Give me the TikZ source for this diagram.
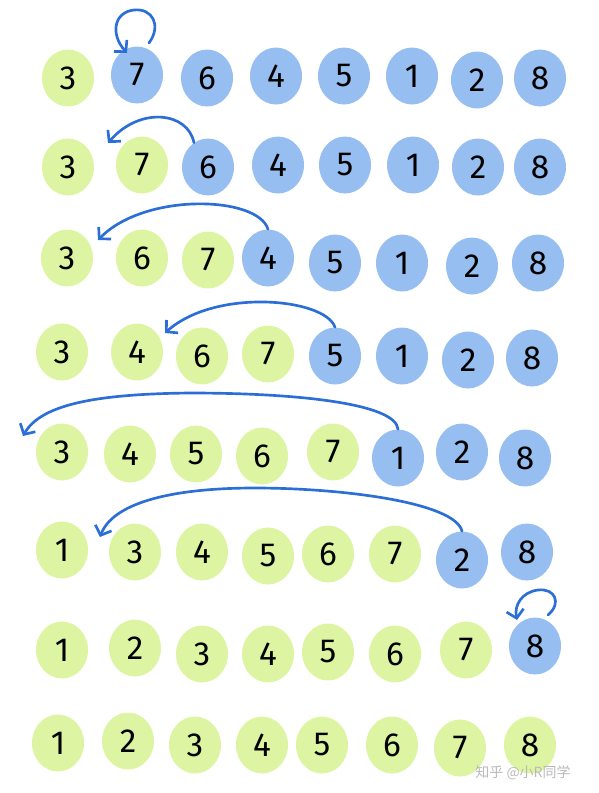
\documentclass[tikz,border=0pt]{standalone}
\usepackage{fontspec}
\setmainfont{Fira Sans}
\newfontfamily\cjk{Noto Sans CJK SC}
\usetikzlibrary{arrows.meta,shapes.geometric}
\definecolor{gfill}{HTML}{DDF5A2}
\definecolor{bfill}{HTML}{97BEF0}
\definecolor{arc}{HTML}{2B6FD6}
\tikzset{
  ball/.style={ellipse, minimum width=39pt, minimum height=42.75pt, inner sep=0pt,
    font=\fontsize{25}{25}\selectfont, text=black},
  g/.style={ball, fill=gfill},
  b/.style={ball, fill=bfill},
  arr/.style={draw=arc, line width=2pt, line cap=round,
    -{Straight Barb[length=6pt,width=13pt,line width=2pt]}},
}
\begin{document}
\begin{tikzpicture}[x=0.75pt,y=-0.75pt]
\useasboundingbox (0,0) rectangle (599,793);
% row 1
\node[g] (r1c1) at (68,78) {3};
\node[b] (r1c2) at (137,75) {7};
\node[b] (r1c3) at (207,78) {6};
\node[b] (r1c4) at (276,76) {4};
\node[b] (r1c5) at (344,76) {5};
\node[b] (r1c6) at (412,76) {1};
\node[b] (r1c7) at (477,80) {2};
\node[b] (r1c8) at (540,78) {8};
% row 2
\node[g] (r2c1) at (68,167) {3};
\node[g] (r2c2) at (142,165) {7};
\node[b] (r2c3) at (208,167) {6};
\node[b] (r2c4) at (278,165) {4};
\node[b] (r2c5) at (345,165) {5};
\node[b] (r2c6) at (413,165) {1};
\node[b] (r2c7) at (478,167) {2};
\node[b] (r2c8) at (540,167) {8};
% row 3
\node[g] (r3c1) at (67,258) {3};
\node[g] (r3c2) at (142,258) {6};
\node[g] (r3c3) at (208,260) {7};
\node[b] (r3c4) at (268,258) {4};
\node[b] (r3c5) at (335,263) {5};
\node[b] (r3c6) at (402,263) {1};
\node[b] (r3c7) at (472,266) {2};
\node[b] (r3c8) at (538,263) {8};
% row 4
\node[g] (r4c1) at (62,352) {3};
\node[g] (r4c2) at (137,352) {4};
\node[g] (r4c3) at (202,356) {6};
\node[g] (r4c4) at (268,354) {7};
\node[b] (r4c5) at (335,356) {5};
\node[b] (r4c6) at (402,356) {1};
\node[b] (r4c7) at (468,360) {2};
\node[b] (r4c8) at (532,358) {8};
% row 5
\node[g] (r5c1) at (62,452) {3};
\node[g] (r5c2) at (130,454) {4};
\node[g] (r5c3) at (196,454) {5};
\node[g] (r5c4) at (262,456) {6};
\node[g] (r5c5) at (333,452) {7};
\node[b] (r5c6) at (398,458) {1};
\node[b] (r5c7) at (462,452) {2};
\node[b] (r5c8) at (525,458) {8};
% row 6
\node[g] (r6c1) at (62,550) {1};
\node[g] (r6c2) at (135,552) {3};
\node[g] (r6c3) at (202,552) {4};
\node[g] (r6c4) at (268,556) {5};
\node[g] (r6c5) at (328,554) {6};
\node[g] (r6c6) at (395,554) {7};
\node[b] (r6c7) at (462,560) {2};
\node[b] (r6c8) at (527,552) {8};
% row 7
\node[g] (r7c1) at (62,650) {1};
\node[g] (r7c2) at (135,648) {2};
\node[g] (r7c3) at (202,654) {3};
\node[g] (r7c4) at (268,654) {4};
\node[g] (r7c5) at (328,652) {5};
\node[g] (r7c6) at (395,654) {6};
\node[g] (r7c7) at (466,650) {7};
\node[b] (r7c8) at (535,646) {8};
% row 8
\node[g] (r8c1) at (58,743) {1};
\node[g] (r8c2) at (128,741) {2};
\node[g] (r8c3) at (195,745) {3};
\node[g] (r8c4) at (262,745) {4};
\node[g] (r8c5) at (322,745) {5};
\node[g] (r8c6) at (392,745) {6};
\node[g] (r8c7) at (460,748) {7};
\node[g] (r8c8) at (530,745) {8};
% arrows
\coordinate (s1) at (149,43);
\coordinate (t1) at (127,53);
\draw[arr] (s1) .. controls (162,25) and (152,8) .. (134,10)
  .. controls (114,12) and (110,34) .. (t1);
\coordinate (t2) at (108,143);
\draw[arr] (r2c3.120) .. controls (188,112) and (140,106) .. (t2);
\coordinate (t3) at (98,240);
\draw[arr] (r3c4.north) .. controls (258,196) and (145,192) .. (t3);
\coordinate (t4) at (165,333);
\draw[arr] (r4c5.north) .. controls (325,298) and (215,288) .. (t4);
\coordinate (t5) at (23,436);
\draw[arr] (r5c6.north) .. controls (396,404) and (300,393) .. (190,393)
  .. controls (90,394) and (40,406) .. (t5);
\coordinate (t6) at (100,537);
\draw[arr] (r6c7.north) .. controls (455,502) and (340,488) .. (255,488)
  .. controls (165,488) and (112,505) .. (t6);
\coordinate (s7) at (548,615);
\coordinate (t7) at (517,620);
\draw[arr] (s7) .. controls (562,603) and (555,588) .. (538,590)
  .. controls (522,592) and (514,605) .. (t7);
% watermark
\node[font=\cjk\fontsize{10.5}{10.5}\selectfont, text=gray!55] (wm) at (523,773) {知乎 @小R同学};
\end{tikzpicture}
\end{document}
